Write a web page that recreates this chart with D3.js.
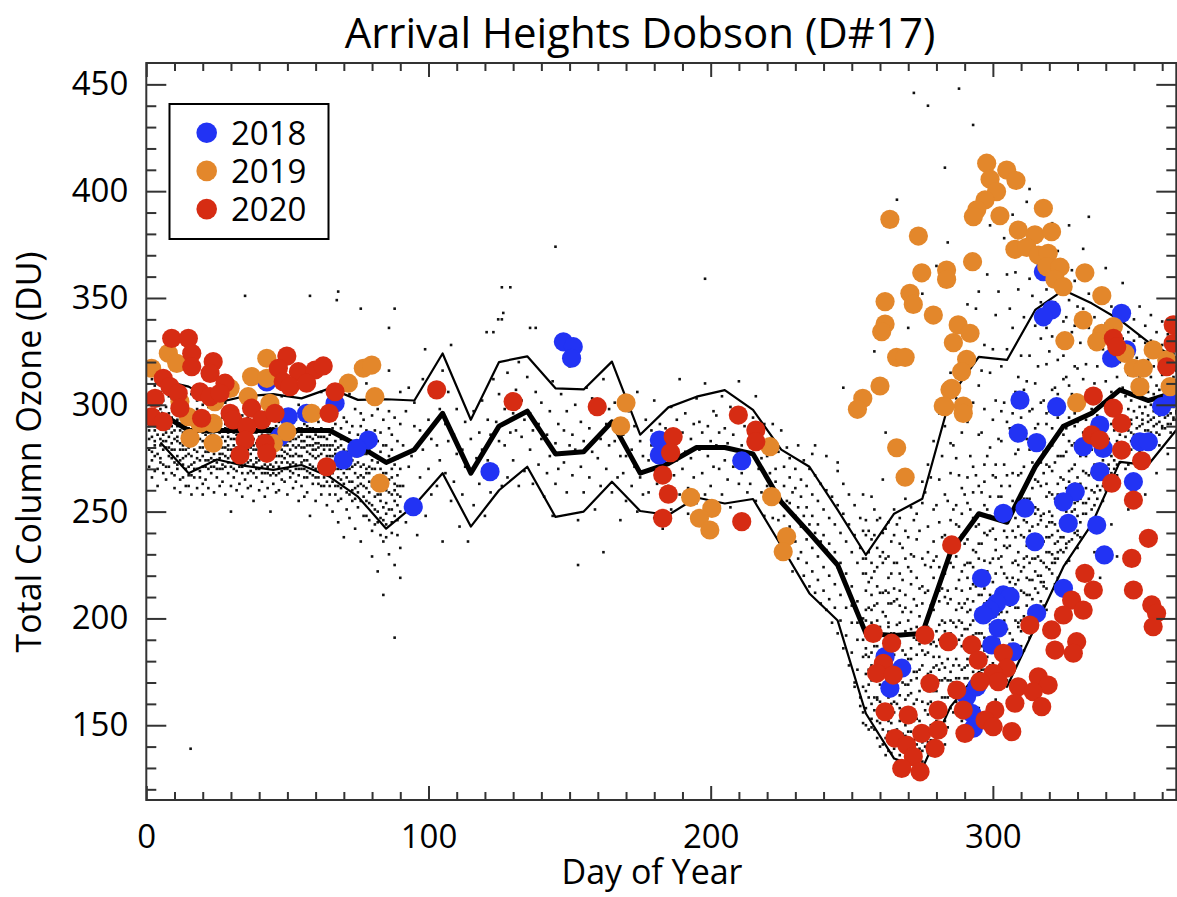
<!DOCTYPE html>
<html>
<head>
<meta charset="utf-8">
<script src="https://cdn.jsdelivr.net/npm/d3@7"></script>
<style>
body { margin: 0; background: #fff; }
svg text { font-family: "Open Sans", sans-serif; fill: #000; }
</style>
</head>
<body>
<svg id="chart"></svg>
<script>
// ---- data ----
var nodeDays = [5,15,25,35,45,55,65,75,85,95,105,115,125,135,145,155,165,175,185,195,205,215,225,235,245,255,265,275,285,295,305,315,325,335,345,355,365];
var medianDU = [296,288,288,288,288,288,288,281,273,279,296,268,290,297,277,278,292,268,272.5,280,280,277,254.5,240,225,193,192,193,231,249,245,271,290,296,307,302,306];
var upperDU = [311.6,308.5,301,304,305,303,307.7,302.3,302.6,302,324,293,320,322.7,307.7,307.2,320.2,286,298.8,303.8,306.9,297.6,279,271,250.8,229.7,249,256,303.8,322.4,321,344.4,353.7,347.5,339.7,329.5,321.8];
var lowerDU = [282.3,268,274.4,271.4,269.5,271.8,266.3,257,242,253,268,243,260,271,247.5,250,264,250.3,248.4,256.6,253.8,255.9,234,211.7,199,155.5,134.4,129.8,158.7,175,168,196,224.2,244,273.3,271.8,288.2];

// climatology observations: [day, [ozone values]]
var climDots = [
[1,[284,297,305,271,290,288,279,294]],[2,[312,278,266,300,293,285,274,296]],
[3,[276,288,309,295,283,290,281,269]],[4,[301,270,318,262,291,286,277,297]],
[5,[298,281,273,306,290,284,293,275]],[6,[286,315,268,279,302,291,283,272]],
[7,[287,271,299,310,265,280,294,283]],[8,[292,280,304,276,289,271,285,296]],
[9,[294,279,268,287,303,282,275,290]],[10,[261,296,284,311,273,288,279,267]],
[11,[270,290,283,276,298,285,272,293]],[12,[265,307,288,279,259,282,274,291]],
[13,[281,293,272,266,287,279,290,275]],[14,[300,276,262,291,284,270,287,279]],
[15,[277,262,289,296,271,284,280,267]],[16,[283,267,305,258,292,276,288,272]],
[17,[286,273,266,291,279,283,270,294]],[18,[298,261,284,270,302,278,289,275]],
[19,[269,288,280,274,295,284,266,291]],[20,[263,283,276,300,258,287,271,280]],
[21,[283,271,292,265,278,286,274,289]],[22,[287,261,299,274,281,270,292,278]],
[23,[275,289,268,282,294,279,286,271]],[24,[259,277,286,271,306,283,274,290]],
[25,[288,266,279,273,298,282,270,285]],[26,[284,262,291,270,277,287,275,281]],
[27,[272,285,294,264,280,277,288,270]],[28,[276,289,258,301,283,271,280,291]],
[29,[281,268,290,275,285,273,279,287]],[30,[262,296,279,271,250,284,276,288]],
[31,[266,279,287,273,292,281,270,284]],[32,[260,284,277,269,298,286,274,280]],
[33,[284,271,263,289,276,280,292,273]],[34,[295,268,280,257,291,276,285,271]],
[35,[276,288,265,281,272,284,279,290]],[36,[294,261,286,279,302,273,282,268]],
[37,[269,283,290,274,262,280,286,277]],[38,[287,279,296,255,281,272,284,268]],
[39,[287,273,279,266,293,282,275,270]],[40,[281,260,277,289,270,285,274,291]],
[41,[278,264,286,291,271,280,268,284]],[42,[283,257,296,275,268,288,279,272]],
[43,[290,275,268,283,261,279,286,271]],[44,[278,294,272,286,250,281,267,289]],
[45,[271,285,279,263,289,276,282,268]],[46,[276,298,267,281,259,285,273,290]],
[47,[283,268,292,276,260,280,287,271]],[48,[287,273,279,265,304,282,276,269]],
[49,[264,281,275,289,270,284,278,292]],[50,[294,258,283,277,286,270,281,273]],
[51,[279,290,266,283,272,276,285,269]],[52,[261,287,276,296,268,281,273,284]],
[53,[287,272,280,264,293,277,284,270]],[54,[276,255,285,270,300,281,267,289]],
[55,[270,283,262,289,276,280,273,286]],[56,[296,266,280,257,291,274,283,270]],
[57,[281,266,290,274,259,278,285,269]],[58,[285,277,295,268,248,281,272,289]],
[59,[276,289,263,281,271,284,267,279]],[60,[293,255,279,286,266,275,282,270]],
[61,[266,280,292,271,285,276,263,282]],[62,[258,277,289,262,306,281,270,285]],
[63,[285,270,262,279,293,274,266,281]],[64,[253,276,288,268,281,272,264,284]],
[65,[273,286,258,281,267,276,262,279]],[66,[294,276,250,289,264,271,281,268]],
[67,[262,279,291,270,283,274,258,277]],[68,[255,276,298,266,245,280,270,262]],
[69,[281,265,276,289,256,270,261,284]],[70,[272,294,268,284,238,276,263,279]],
[71,[270,284,259,278,292,266,273,251]],[72,[264,276,247,287,305,270,258,280]],
[73,[264,277,290,255,271,283,260,274]],[74,[283,298,261,276,242,268,256,272]],
[75,[279,262,286,273,252,266,259,276]],[76,[290,267,281,296,236,263,271,255]],
[77,[257,272,284,266,293,248,262,277]],[78,[248,277,288,261,310,268,255,270]],
[79,[271,283,254,279,264,259,246,268]],[80,[295,241,286,274,229,262,253,270]],
[81,[262,276,288,251,270,244,266,257]],[82,[283,298,245,266,222,258,273,250]],
[83,[278,258,270,287,247,264,239,255]],[84,[263,281,293,236,211,252,268,246]],
[85,[254,268,281,244,273,260,238,249]],[86,[289,259,230,297,316,265,251,276]],
[87,[266,279,251,286,240,258,245,270]],[88,[272,294,225,260,191,263,248,255]],
[89,[258,275,246,283,267,253,239,262]],[90,[233,291,262,219,306,270,250,257]],
[91,[262,281]],[92,[297,245]],[93,[308,271]],
[94,[276,254]],[95,[290,301]],[96,[239]],
[97,[288,266]],[98,[279,312]],[99,[248]],
[100,[270,293]],[101,[258,284]],[102,[305]],
[103,[281,262]],[104,[298,274]],[105,[316,236]],
[106,[291,268]],[107,[283,306]],[108,[255]],
[109,[264,286]],[110,[277,298]],[111,[243]],
[112,[279,258]],[113,[292,271]],[114,[236]],
[115,[268,284]],[116,[253,297]],[117,[275]],
[118,[287,263]],[119,[279,302]],[120,[248]],
[121,[274,293]],[122,[259,286]],[123,[312,334]],
[124,[292,271]],[125,[283,305]],[126,[262,340]],
[127,[281,298]],[128,[266,315]],[129,[287,355]],
[130,[296,274]],[131,[288,307]],[132,[262,320]],
[133,[285,302]],[134,[269,293]],[135,[313]],
[136,[279,296]],[137,[263,288]],[138,[306,336]],
[139,[291,272]],[140,[284,301]],[141,[257]],
[142,[268,286]],[143,[297,276]],[144,[248,311]],
[145,[282,263]],[146,[291,270]],[147,[305]],
[148,[273,288]],[149,[259,297]],[150,[281,318]],
[151,[286,267]],[152,[279,300]],[153,[246,225]],
[154,[271,292]],[155,[259,283]],[156,[308]],
[157,[289,266]],[158,[278,303]],[159,[251]],
[160,[275,296]],[161,[284,262]],[162,[312,231]],
[163,[291,270]],[164,[298,281]],[165,[259]],
[166,[283,301]],[167,[266,292]],[168,[276,246]],
[169,[268,286]],[170,[276,255]],[171,[297]],
[172,[279,262]],[173,[290,271]],[174,[250,306]],
[175,[266,283]],[176,[258,276]],[177,[293]],
[178,[274,259]],[179,[288,281]],[180,[247,302]],
[181,[263,280]],[182,[271,291]],[183,[256,242]],
[184,[276,289]],[185,[262,268]],[186,[299,251]],
[187,[282,267]],[188,[293,274]],[189,[258,312]],
[190,[270,287]],[191,[278,296]],[192,[261,249]],
[193,[284,275]],[194,[291,266]],[195,[303,254]],
[196,[279,292]],[197,[268,287]],[198,[258,310,359]],
[199,[290,276]],[200,[262,283]],[201,[297,271]],
[202,[281,295]],[203,[270,287]],[204,[258,304]],
[205,[274,289]],[206,[265,282]],[207,[299,252]],
[208,[286,271]],[209,[279,293]],[210,[263,311]],
[211,[268,281]],[212,[290,274]],[213,[259]],
[214,[277,263]],[215,[285,294]],[216,[255,304]],
[217,[270,283]],[218,[259,275]],[219,[291,248]],
[220,[262,276]],[221,[268,281]],[222,[247,291]],
[223,[255,270,264]],[224,[246,278]],[225,[236,288]],
[226,[262,248,271,239]],[227,[255,280,231]],
[228,[254,266,243,275]],[229,[237,259,222]],
[230,[248,261,236,270]],[231,[252,228,281]],
[232,[243,257,231,265]],[233,[248,220,274]],
[234,[237,252,226,262]],[235,[244,215,270]],
[236,[233,248,222,258]],[237,[240,212,267,281]],
[238,[229,244,218,255]],[239,[236,207,263]],
[240,[224,239,213,251]],[241,[232,204,260,276]],
[242,[220,235,209,247]],[243,[228,198,257]],
[244,[216,231,205,244]],[245,[224,193,253,269]],
[246,[211,226,199,240]],[247,[219,186,249,263]],
[248,[205,221,192,236]],[249,[213,178,244,258]],
[250,[198,215,184,231,206]],[251,[170,239,253,168]],
[252,[190,208,176,226,198]],[253,[163,233,247,159]],
[254,[182,200,168,221,190,156,228,241,151,258]],
[255,[158,221,183,204,166,239,192,174,213,150,228,199,186,246]],
[257,[171,149,198,226,184,160,211,237,193,153,219,178,204,257]],
[259,[144,187,162,215,199,233,171,152,207,181,246,163,224,193]],
[261,[168,141,203,179,226,156,192,240,148,212,185,173,231,265]],
[263,[152,196,138,174,219,163,207,245,185,147,229,171,198,212]],
[265,[139,183,161,208,147,226,175,193,239,156,214,168,251,187]],
[267,[164,136,198,152,221,177,143,206,189,235,158,247,172,213]],
[269,[145,177,133,211,162,194,228,150,183,241,169,205,138,256]],
[271,[158,139,186,203,147,230,171,216,135,195,252,165,181,222]],
[273,[134,172,196,153,219,141,183,237,162,206,147,249,190,175]],
[275,[149,133,178,207,161,228,142,192,254,170,215,138,185,264]],
[277,[166,142,201,155,184,231,147,213,174,243,137,196,160,272]],
[279,[143,177,158,219,189,148,236,166,204,251,182,139,227,283]],
[281,[159,197,148,182,224,171,208,154,245,190,265,176,213,296]],
[283,[172,152,210,186,239,163,198,258,177,221,141,290,194,233]],
[285,[158,193,175,226,164,246,187,209,268,171,236,199,282,315]],
[287,[181,165,214,196,253,172,229,188,275,204,244,161,303,336]],
[289,[168,205,187,239,176,261,198,222,152,287,213,249,192,322]],
[291,[186,172,219,203,266,181,237,195,292,226,178,254,209,347]],
[293,[175,208,192,247,183,271,216,199,232,178,301,259,224,369]],
[295,[193,177,228,211,262,186,244,201,286,235,158,309,219,353]],
[297,[181,214,199,253,176,272,227,191,298,240,207,264,185,328]],
[299,[172,206,189,241,219,280,197,257,178,226,315,248,211,384]],
[301,[195,176,232,211,266,188,249,221,302,162,237,272,201,342]],
[303,[178,214,193,257,176,283,229,203,247,318,186,262,224,297]],
[305,[171,203,186,238,219,292,174,251,208,326,233,267,195,361]],
[307,[190,175,226,207,268,183,241,214,296,178,255,336,219,389]],
[309,[183,218,196,252,186,279,231,205,313,243,267,198,354,225]],
[311,[197,185,238,212,289,224,256,201,341,271,228,307,246,377]],
[313,[191,226,204,266,218,297,241,211,323,256,279,235,359,401]],
[315,[203,196,249,222,281,236,310,214,265,337,252,289,228,372]],
[317,[208,236,217,273,227,301,248,262,331,220,284,246,348,392]],
[319,[214,204,257,231,291,243,319,224,272,354,238,296,263,336]],
[321,[221,248,230,281,239,307,258,332,226,269,289,245,364,385]],
[323,[228,219,263,241,294,252,321,236,276,345,258,305,231,372]],
[325,[231,257,238,286,247,312,265,298,339,244,276,252,357,323]],
[327,[236,227,269,248,294,258,327,241,283,349,264,309,245,384]],
[329,[240,263,246,290,254,318,272,303,337,251,282,261,358,296]],
[256,[176,205,163,231,190,148,217,241,182,169]],
[258,[163,194,148,222,177,206,239,157,187,251]],
[260,[151,183,169,212,140,229,196,161,247,178]],
[262,[144,176,157,201,189,228,136,213,166,242]],
[264,[137,168,151,193,221,178,143,207,236,160]],
[266,[142,133,174,160,209,187,226,148,197,244]],
[268,[131,157,139,185,170,218,146,203,233,179]],
[270,[147,130,169,154,199,181,141,224,164,238]],
[272,[136,160,143,191,175,209,132,229,152,246]],
[274,[145,131,166,152,188,214,139,176,201,241]],
[276,[131,157,140,183,168,212,149,197,225,259]],
[278,[150,136,175,161,206,143,188,224,170,266]],
[280,[138,166,152,194,178,229,144,211,253,187]],
[282,[163,145,187,171,214,154,238,199,179,276]],
[284,[149,181,163,207,189,232,171,255,213,298]],
[286,[170,156,198,178,224,188,251,164,236,281]],
[288,[159,190,172,218,199,243,178,267,207,301]],
[290,[177,163,207,187,235,195,258,172,225,313]],
[292,[166,197,180,226,204,251,189,276,214,331]],
[294,[183,170,215,193,243,201,267,177,231,345]],
[296,[176,204,187,235,211,259,193,287,222,316]],
[298,[188,173,222,199,251,208,276,182,239,361]],
[300,[179,209,191,242,217,267,197,293,228,326]],
[302,[186,171,228,202,257,213,284,190,246,353]],
[304,[174,207,193,241,221,272,199,301,234,378]],
[306,[193,179,234,206,262,217,289,188,248,345]],
[308,[185,216,199,247,227,277,205,306,238,362]],
[310,[199,187,239,213,268,222,294,194,257,323]],
[312,[206,229,211,256,234,284,219,311,245,395]],
[314,[200,195,243,218,273,228,298,209,261,351]],
[316,[212,239,220,264,244,291,229,318,251,366]],
[318,[206,217,249,226,278,236,302,215,268,339]],
[320,[223,245,231,271,250,297,238,325,259,378]],
[322,[216,228,256,235,284,244,308,226,273,348]],
[324,[232,252,238,276,257,301,245,330,266,367]],
[326,[226,235,261,243,289,250,313,233,278,341]],
[328,[237,258,244,281,262,305,250,334,270,363]],
[330,[241,233,266,248,292,255,317,239,282,346]],
[331,[245,238,276,256,300,263,329]],[332,[249,287,345,269,312,254,373]],
[333,[249,268,254,293,261,319,276]],[334,[305,336,256,285,267,352,388]],
[335,[251,246,279,260,298,268,327]],[336,[253,289,341,272,310,259,231]],
[337,[256,272,262,295,266,318,279]],[338,[304,333,260,287,270,349,219]],
[339,[262,255,283,267,301,274,326]],[340,[260,292,338,278,311,265,364]],
[341,[266,279,270,297,272,319,284]],[342,[306,332,268,291,276,346,244]],
[343,[270,264,288,274,302,280,325]],[344,[267,295,336,283,313,272,229]],
[345,[273,286,277,300,279,320,289]],[346,[308,331,276,294,282,343,357]],
[347,[276,270,291,281,304,285,324]],[348,[272,298,334,288,314,279,251]],
[349,[279,291,283,302,287,321,293]],[350,[309,330,281,297,286,340,264]],
[351,[276,272,294,285,305,289,322]],[352,[278,299,332,290,313,283,346]],
[353,[281,293,286,303,291,320,296]],[354,[308,329,284,299,288,337,258]],
[355,[279,276,295,288,306,292,321]],[356,[282,300,330,293,313,287,342]],
[357,[284,297,290,305,294,318,299]],[358,[309,327,287,302,291,334,268]],
[359,[286,281,298,292,307,295,319]],[360,[289,303,328,296,314,290,339]],
[361,[289,301,294,306,298,317,302]],[362,[310,325,291,305,295,333,277]],
[363,[291,287,300,296,308,299,318]],[364,[293,306,324,299,313,294,331]],
[365,[293,303,297,307,301,316,305,311,322,296,308,300,329]]
];
// isolated climatology points
var climExtra = [[15.7,139],[35,351],[58,351],[67.5,349],[68,353],[76,345],[88,345],[86,336],[98.8,326],[108,328],[120.6,334],[124.7,340],[126,355],[126.5,343],[136,336],[145,374],
  [272,446],[277,440],[288,448],[293,431],[283,411],[266,396],[247,308],[236,277],[245,273],[258,325],[262,287],[270,336],[275,352],[280,365],[284,376]];

var dots2018 = [[42.7,310.7],[50.3,294.4],[56.8,296],[66.9,300.7],[78.7,283.5],[74.6,279.6],[69.8,274.2],[94.6,252.3],[121.8,268.7],[47.4,285.1],
  [147.8,329.5],[151.3,327.2],[150.7,321.8],[181.8,283.5],[181.8,276.5],[211,273.8],
  [317.9,362.3],[320.8,344.4],[317.9,341.2],[345.6,342.8],[347.4,325.7],[342.1,321.8],[359.8,299.1],[309.6,302.2],[322.6,299.1],[309,286.7],[315.5,282.3],[337.9,290.5],[332,280.4],[339.1,279.6],[352.1,282.7],[355.1,282.7],[337.9,268.7],[349.8,264],[329.2,259.3],[325,254.6],[311.4,251.6],[303.7,249.2],[326.7,244.5],[336.8,243.7],[314.9,235.9],[339.5,229.7],[296,218.8],[303.7,211],[306.1,210.2],[301.3,207.1],[299,203.9],[296.6,201.6],[301.9,195.4],[299.6,187.6],[307.2,184.4],[325,214.1],[315.5,202.4],[261.8,182.1],[267.7,176.7],[263.5,167.3],[290.7,163.4],[294.3,168],[292.5,155.6],[293.1,148.6],[363.5,303]];

var dots2019 = [[7.8,324.1],[1.9,317.1],[10.8,319.4],[42.7,321.8],[37.3,313.2],[42.7,312.4],[29.7,307.7],[24.3,301.5],[11.9,301.5],[36.1,303.8],[43.8,300.7],[71.6,310.1],[76.9,317.1],[79.9,318.6],[81,303.8],[58.6,296],[49.8,287.4],[45,282],[15.5,284.3],[23.7,282],[19,291.3],[23.7,291.3],[14.9,294.4],[82.8,263.3],
  [170,300.9],[168.1,290.1],[192.9,256.7],[200.4,251.5],[196,246.9],[199.7,241.4],[221,280.4],[221.6,257],[226.9,238.3],[225.7,231.2],
  [297.8,413.1],[304.9,409.9],[308.2,405],[299,405.6],[301.3,399.8],[297.2,395.9],[294.3,391.3],[293.1,388.1],[302.5,388.5],[317.9,392],[309,381.8],[314.9,379.6],[320.8,381],[307.8,372.8],[312,373.7],[316.1,370.1],[319.6,370.9],[319.1,364.6],[323.8,364.4],[322,358.7],[324.9,355.3],[332.6,361.8],[338.6,351.1],[332,339.7],[325.5,330],
  [263.5,386.8],[273.6,379],[274.8,361.8],[283.6,363.1],[283.6,358.7],[292.8,367],[261.8,348.3],[270.6,352.2],[271.8,347],[261.8,337.8],[260.6,334.2],[278.9,342],[287.7,337.4],[291.9,333.5],[286,329.1],[265.9,322.2],[268.9,322.2],[290.7,321.3],[288.9,315.5],[285.4,307.7],[282.4,299.4],[289.5,299.4],[289.5,296],[260,308.8],[253.9,303],[252,297.9],[265.9,279.9],[268.9,266.1],[284.8,307],[283,299.1],
  [329.7,301],[338.6,333.5],[336.8,329.5],[342.7,336.6],[346.8,324.1],[349.8,317.1],[353.3,317.1],[352.1,308.5],[356.8,325.7],[361.6,321],[362.8,308.5]];

var dots2020 = [[9,331.1],[14.9,331.1],[16.1,324.1],[16.1,317.8],[23.7,320.2],[22.6,314.7],[49.8,322.8],[53.9,315.5],[59.8,316.3],[62.7,318.2],[46.8,317.1],[48.5,310.8],[50.9,308.5],[56.8,310.1],[6,312.4],[8.4,308.5],[11.3,305.4],[19,306.1],[22.6,303.8],[27.9,310.1],[26.1,305.4],[3.1,303],[11.9,298.4],[1.9,294.4],[6,292.1],[19.6,293.7],[29.7,296],[30.8,292.9],[37.3,298.4],[40.9,292.9],[45.6,296],[35.6,289.8],[35,283.5],[33.2,276.5],[42.1,282],[42.7,277.3],[64.8,296],[66.9,306.1],[63.9,271],[102.9,307],[130,301.5],
  [159.8,299.1],[186.7,285.1],[185.8,277.6],[183,267.1],[185,258.2],[183,246.9],[209.8,295.2],[216,288.2],[216,282.7],[211,245.3],
  [342.7,331.1],[343.9,327.2],[361.6,317.8],[363.9,337.4],[363.9,328.8],[335.6,304.1],[342.7,298.4],[345.6,291.3],[335,285.9],[337.9,283.5],[345.6,278.8],[352.7,273.8],[342.1,263.3],[349.8,255.4],[355.1,237.5],[349.2,228.1],[332.6,221.1],[335.6,213.3],[349.8,213.3],[327.9,208.6],[332,203.9],[325,201.6],[356.3,206.3],[358,202.4],[356.8,196.1],[313.1,196.9],[320.8,194.6],[329.7,189.1],[322,185.2],[328.5,183.7],
  [285.4,234.4],[257.6,193],[264.1,188.4],[275.9,192.2],[284.2,189.1],[292.5,187.6],[303.7,183.7],[294.8,180.5],[304.9,176.7],[300.1,174.3],[316.1,172.7],[319.6,168.8],[309,168],[314.3,165.7],[317.3,158.7],[307.8,160.3],[301.9,170.4],[295.4,170.4],[287.2,166.5],[277.7,169.6],[261.2,179],[258.8,174.3],[264.7,173.5],[261.8,156.3],[270,154.8],[280.6,157.1],[289.5,157.1],[290.1,146.2],[300.7,157.1],[297.2,152.4],[300.1,149.3],[306.7,147],[265.3,143.9],[269.5,140.7],[274.8,146.2],[280.6,147.8],[279.5,139.2],[271.8,135.3],[267.7,129.8],[274.2,128.2]];

var years = ["2018", "2019", "2020"];
var yearDots = [dots2018, dots2019, dots2020];
var yearColors = ["#2233f4", "#e3872b", "#d62c13"];

var xTicks = [0, 100, 200, 300];
var yTicks = [150, 200, 250, 300, 350, 400, 450];

// ---- drawing ----
var W = 1177, H = 897;
var svg = d3.select("#chart").attr("width", W).attr("height", H);

var x = d3.scaleLinear().domain([0, 365]).range([146.3, 1176.3]);
var y = d3.scaleLinear().domain([115, 460]).range([800, 63]);

svg.append("defs").append("clipPath").attr("id", "plotclip")
	.append("rect")
	.attr("x", x(0)).attr("y", y(460))
	.attr("width", x(365) - x(0)).attr("height", y(115) - y(460));

var plot = svg.append("g").attr("clip-path", "url(#plotclip)");

// flatten climatology
var clim = [];
climDots.forEach(function(g) {
	g[1].forEach(function(v) { clim.push([g[0], v]); });
});
climExtra.forEach(function(p) { clim.push(p); });

plot.append("g").selectAll("rect")
	.data(clim)
	.enter().append("rect")
	.attr("x", function(d) { return x(d[0]) - 1.3; })
	.attr("y", function(d) { return y(d[1]) - 1.3; })
	.attr("width", 2.6)
	.attr("height", 2.6)
	.style("fill", "#111");

function lineData(vals) {
	return nodeDays.map(function(d, i) { return [d, vals[i]]; });
}
var line = d3.line()
	.x(function(d) { return x(d[0]); })
	.y(function(d) { return y(d[1]); });

[[upperDU, 2.2], [lowerDU, 2.2], [medianDU, 5]].forEach(function(s) {
	plot.append("path")
		.datum(lineData(s[0]))
		.attr("d", line)
		.style("fill", "none")
		.style("stroke", "#000")
		.style("stroke-width", s[1])
		.style("stroke-linejoin", "round");
});

yearDots.forEach(function(pts, k) {
	plot.append("g").selectAll("circle")
		.data(pts)
		.enter().append("circle")
		.attr("cx", function(d) { return x(d[0]); })
		.attr("cy", function(d) { return y(d[1]); })
		.attr("r", 9.6)
		.style("fill", yearColors[k]);
});

// axes
function styleAxis(g) {
	g.select(".domain").remove();
	g.selectAll(".tick line").style("stroke", "#333").style("stroke-width", 2);
	g.selectAll(".tick text").style("font-size", "33px").style("font-family", "'Open Sans', sans-serif").style("fill", "#000");
}
var minorX = d3.range(10, 365, 10).filter(function(v) { return v % 100 !== 0; });
var minorY = d3.range(120, 460, 10).filter(function(v) { return v % 50 !== 0; });

svg.append("g").attr("transform", "translate(0," + y(115) + ")")
	.call(d3.axisBottom(x).tickValues(xTicks).tickSize(-14).tickPadding(25)).call(styleAxis);
svg.append("g").attr("transform", "translate(0," + y(115) + ")")
	.call(d3.axisBottom(x).tickValues(minorX).tickSize(-8).tickFormat("")).call(styleAxis);
svg.append("g").attr("transform", "translate(0," + y(460) + ")")
	.call(d3.axisTop(x).tickValues(xTicks).tickSize(-14).tickFormat("")).call(styleAxis);
svg.append("g").attr("transform", "translate(0," + y(460) + ")")
	.call(d3.axisTop(x).tickValues(minorX).tickSize(-8).tickFormat("")).call(styleAxis);

svg.append("g").attr("transform", "translate(" + x(0) + ",0)")
	.call(d3.axisLeft(y).tickValues(yTicks).tickSize(-20).tickPadding(18)).call(styleAxis);
svg.append("g").attr("transform", "translate(" + x(0) + ",0)")
	.call(d3.axisLeft(y).tickValues(minorY).tickSize(-10).tickFormat("")).call(styleAxis);
svg.append("g").attr("transform", "translate(" + x(365) + ",0)")
	.call(d3.axisRight(y).tickValues(yTicks).tickSize(-20).tickFormat("")).call(styleAxis);
svg.append("g").attr("transform", "translate(" + x(365) + ",0)")
	.call(d3.axisRight(y).tickValues(minorY).tickSize(-10).tickFormat("")).call(styleAxis);

svg.append("rect")
	.attr("x", x(0)).attr("y", y(460))
	.attr("width", x(365) - x(0)).attr("height", y(115) - y(460))
	.style("fill", "none").style("stroke", "#333").style("stroke-width", 2);

// titles
svg.append("text")
	.attr("x", 640).attr("y", 48)
	.attr("text-anchor", "middle")
	.style("font-size", "42px")
	.text("Arrival Heights Dobson (D#17)");

svg.append("text")
	.attr("x", 652).attr("y", 884)
	.attr("text-anchor", "middle")
	.style("font-size", "34px")
	.text("Day of Year");

svg.append("text")
	.attr("transform", "translate(41,452) rotate(-90)")
	.attr("text-anchor", "middle")
	.style("font-size", "34px")
	.text("Total Column Ozone (DU)");

// legend
var legend = svg.append("g");
legend.append("rect")
	.attr("x", 169.5).attr("y", 104)
	.attr("width", 159).attr("height", 135)
	.style("fill", "#fff").style("stroke", "#000").style("stroke-width", 2);
years.forEach(function(yr, i) {
	var cy = 132.7 + i * 38.2;
	legend.append("circle")
		.attr("cx", 206.7).attr("cy", cy).attr("r", 10.3)
		.style("fill", yearColors[i]);
	legend.append("text")
		.attr("x", 231).attr("y", cy + 12)
		.style("font-size", "33px")
		.text(yr);
});
</script>
</body>
</html>
